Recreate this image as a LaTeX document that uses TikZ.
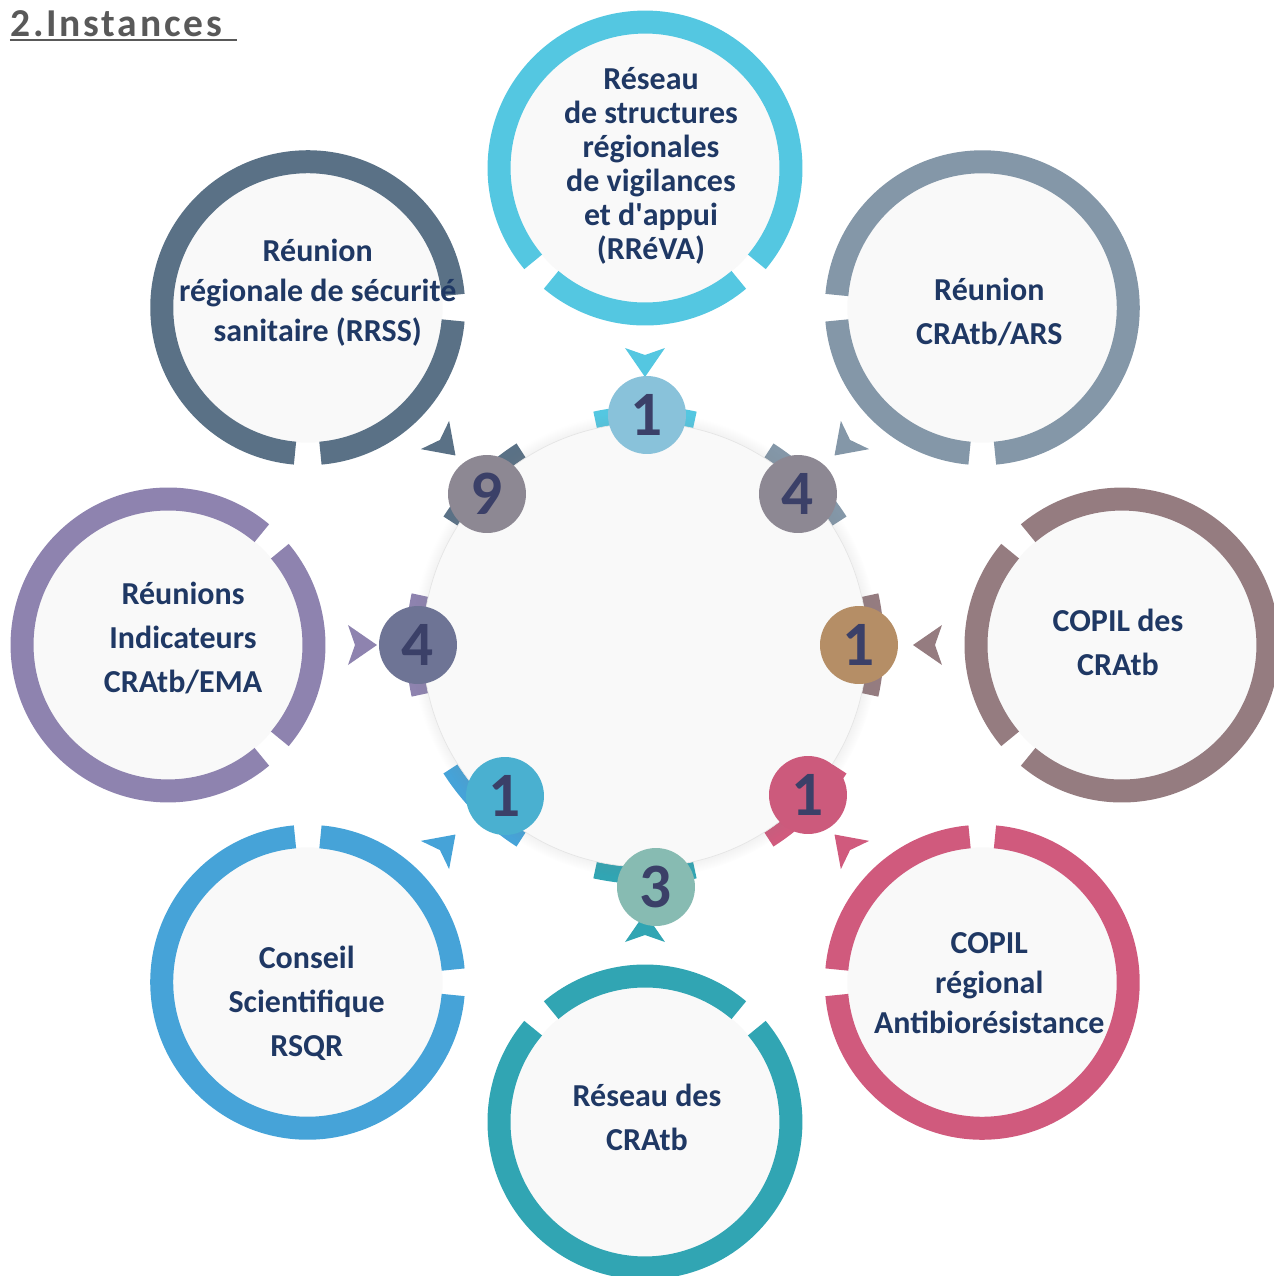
\documentclass[tikz,border=0pt]{standalone}
\usepackage{fontspec}
\setmainfont{Carlito}
\usepackage{xcolor}
\usepackage{tikz}
\usetikzlibrary{shadows}
\definecolor{paper}{HTML}{F9F9F9}
\definecolor{inktext}{HTML}{1F3864}
\definecolor{inknum}{HTML}{3B4068}
\definecolor{titlegray}{HTML}{595959}
% ring colours
\definecolor{ringRreva}{HTML}{54C7E1}
\definecolor{ringArs}{HTML}{8497A8}
\definecolor{ringCopil}{HTML}{957C80}
\definecolor{ringAtb}{HTML}{D05A7D}
\definecolor{ringReseau}{HTML}{31A5B3}
\definecolor{ringRsqr}{HTML}{46A3D8}
\definecolor{ringEma}{HTML}{8E83AF}
\definecolor{ringRrss}{HTML}{5A7186}
% number discs
\definecolor{discRreva}{HTML}{89C2DA}
\definecolor{discArs}{HTML}{8D8893}
\definecolor{discCopil}{HTML}{B58E66}
\definecolor{discAtb}{HTML}{CC5A7C}
\definecolor{discReseau}{HTML}{87BBB2}
\definecolor{discRsqr}{HTML}{4AB0D0}
\definecolor{discEma}{HTML}{6E7495}
\definecolor{discRrss}{HTML}{8D8893}
\tikzstyle{hub} = [circle, minimum size=8.88cm, inner sep=0pt, fill=paper, draw=black!10, circular drop shadow={shadow xshift=0pt, shadow yshift=0pt, shadow scale=1.05, opacity=0.3}]
\tikzstyle{inst} = [circle, minimum size=5.4cm, inner sep=0pt, outer sep=0pt, fill=paper]
\tikzstyle{ring} = [line width=0.46cm]
\tikzstyle{band} = [line width=0.44cm]
\tikzstyle{num} = [circle, minimum size=1.56cm, inner sep=0pt, text=inknum, font=\fontsize{36}{36}\selectfont\bfseries]
\tikzstyle{caption} = [align=center, text=inktext, font=\fontsize{18.2}{25}\selectfont\bfseries]
\tikzset{dart/.pic={\fill (0,0) -- (-29,20) -- (-22,0) -- (-29,-20) -- cycle;}}

\begin{document}
\begin{tikzpicture}[x=0.02cm, y=0.02cm]
	\useasboundingbox (-645,-631) rectangle (629,645);
	\node (title) [anchor=base west, inner sep=0pt, text=titlegray, font=\fontsize{22.5}{27}\selectfont\bfseries\addfontfeatures{LetterSpace=7}] at (-635,609) {2.Instances};
	\draw [titlegray, line width=0.06cm] ([yshift=-0.08cm]title.base west) -- ([xshift=0.3cm, yshift=-0.08cm]title.base east);

	\coordinate (c) at (0,0);
	\draw [band, ringRreva] (c) ++(77.5:228) arc[start angle=77.5, end angle=102.5, radius=4.56cm];
	\draw [band, ringArs] (c) ++(32.5:228) arc[start angle=32.5, end angle=57.5, radius=4.56cm];
	\draw [band, ringCopil] (c) ++(-12.5:228) arc[start angle=-12.5, end angle=12.5, radius=4.56cm];
	\draw [band, ringAtb] (c) ++(-57.5:228) arc[start angle=-57.5, end angle=-32.5, radius=4.56cm];
	\draw [band, ringReseau] (c) ++(-102.5:228) arc[start angle=-102.5, end angle=-77.5, radius=4.56cm];
	\draw [band, ringRsqr] (c) ++(-147.5:228) arc[start angle=-147.5, end angle=-122.5, radius=4.56cm];
	\draw [band, ringEma] (c) ++(167.5:228) arc[start angle=167.5, end angle=192.5, radius=4.56cm];
	\draw [band, ringRrss] (c) ++(122.5:228) arc[start angle=122.5, end angle=147.5, radius=4.56cm];
	\node (hub) [hub] at (c) {};

	\node (rreva) [inst] at (90:477) {};
	\node (ars) [inst] at (45:477) {};
	\node (copil) [inst] at (0:477) {};
	\node (atb) [inst] at (-45:477) {};
	\node (reseau) [inst] at (-90:477) {};
	\node (rsqr) [inst] at (-135:477) {};
	\node (ema) [inst] at (180:477) {};
	\node (rrss) [inst] at (135:477) {};

	\draw [ring, ringRreva] (rreva.center) ++(230:146) arc[start angle=230, end angle=310, radius=2.92cm];
	\draw [ring, ringRreva] (rreva.center) ++(320:146) arc[start angle=320, end angle=580, radius=2.92cm];
	\draw [ring, ringArs] (ars.center) ++(185:146) arc[start angle=185, end angle=265, radius=2.92cm];
	\draw [ring, ringArs] (ars.center) ++(275:146) arc[start angle=275, end angle=535, radius=2.92cm];
	\draw [ring, ringCopil] (copil.center) ++(140:146) arc[start angle=140, end angle=220, radius=2.92cm];
	\draw [ring, ringCopil] (copil.center) ++(230:146) arc[start angle=230, end angle=490, radius=2.92cm];
	\draw [ring, ringAtb] (atb.center) ++(95:146) arc[start angle=95, end angle=175, radius=2.92cm];
	\draw [ring, ringAtb] (atb.center) ++(185:146) arc[start angle=185, end angle=445, radius=2.92cm];
	\draw [ring, ringReseau] (reseau.center) ++(50:146) arc[start angle=50, end angle=130, radius=2.92cm];
	\draw [ring, ringReseau] (reseau.center) ++(140:146) arc[start angle=140, end angle=400, radius=2.92cm];
	\draw [ring, ringRsqr] (rsqr.center) ++(5:146) arc[start angle=5, end angle=85, radius=2.92cm];
	\draw [ring, ringRsqr] (rsqr.center) ++(95:146) arc[start angle=95, end angle=355, radius=2.92cm];
	\draw [ring, ringEma] (ema.center) ++(-40:146) arc[start angle=-40, end angle=40, radius=2.92cm];
	\draw [ring, ringEma] (ema.center) ++(50:146) arc[start angle=50, end angle=310, radius=2.92cm];
	\draw [ring, ringRrss] (rrss.center) ++(275:146) arc[start angle=275, end angle=355, radius=2.92cm];
	\draw [ring, ringRrss] (rrss.center) ++(365:146) arc[start angle=365, end angle=625, radius=2.92cm];

	\coordinate (pRreva) at (90:268);
	\coordinate (pArs) at (45:268);
	\coordinate (pCopil) at (0:268);
	\coordinate (pAtb) at (-45:268);
	\coordinate (pReseau) at (-90:268);
	\coordinate (pRsqr) at (-135:268);
	\coordinate (pEma) at (180:268);
	\coordinate (pRrss) at (135:268);
	\pic [rotate=270, ringRreva] at (pRreva) {dart};
	\pic [rotate=225, ringArs] at (pArs) {dart};
	\pic [rotate=180, ringCopil] at (pCopil) {dart};
	\pic [rotate=135, ringAtb] at (pAtb) {dart};
	\pic [rotate=90, ringReseau] at (pReseau) {dart};
	\pic [rotate=45, ringRsqr] at (pRsqr) {dart};
	\pic [rotate=0, ringEma] at (pEma) {dart};
	\pic [rotate=315, ringRrss] at (pRrss) {dart};

	\node (numRreva) [num, fill=discRreva] at (2,230) {1};
	\node (numArs) [num, fill=discArs] at (153,151) {4};
	\node (numCopil) [num, fill=discCopil] at (214,0) {1};
	\node (numAtb) [num, fill=discAtb] at (163,-150) {1};
	\node (numReseau) [num, fill=discReseau] at (11,-242) {3};
	\node (numRsqr) [num, fill=discRsqr] at (-140,-151) {1};
	\node (numEma) [num, fill=discEma] at (-227,0) {4};
	\node (numRrss) [num, fill=discRrss] at (-158,151) {9};

	\node (tRreva) [caption, font=\fontsize{18.2}{19.4}\selectfont\bfseries, xshift=0.12cm, yshift=0.04cm] at (rreva) {Réseau\\de structures\\régionales\\de vigilances\\et d\textquotesingle appui\\(RRéVA)};
	\node (tArs) [caption, xshift=0.14cm, yshift=-0.08cm] at (ars) {Réunion\\CRAtb/ARS};
	\node (tCopil) [caption, xshift=-0.08cm, yshift=0.06cm] at (copil) {COPIL des\\CRAtb};
	\node (tAtb) [caption, font=\fontsize{18.2}{22.8}\selectfont\bfseries, xshift=0.14cm, yshift=-0.02cm] at (atb) {COPIL\\régional\\Antibiorésistance};
	\node (tReseau) [caption, xshift=0.04cm, yshift=0.1cm] at (reseau) {Réseau des\\CRAtb};
	\node (tRsqr) [caption, xshift=-0.02cm, yshift=-0.42cm] at (rsqr) {Conseil\\Scientifique\\RSQR};
	\node (tEma) [caption, xshift=0.3cm, yshift=0.14cm] at (ema) {Réunions\\Indicateurs\\CRAtb/EMA};
	\node (tRrss) [caption, font=\fontsize{18.2}{22.8}\selectfont\bfseries, xshift=0.2cm, yshift=0.3cm] at (rrss) {Réunion\\régionale de sécurité\\sanitaire (RRSS)};
\end{tikzpicture}
\end{document}
